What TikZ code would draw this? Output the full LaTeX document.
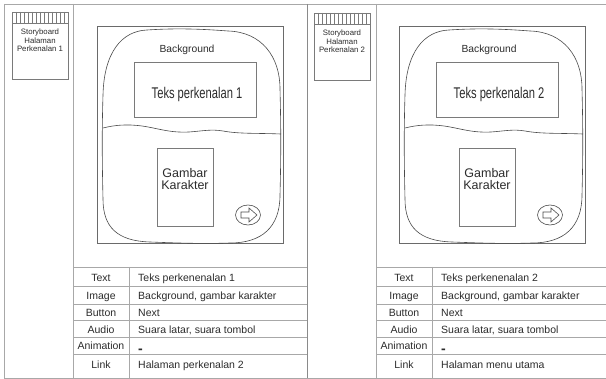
\documentclass[tikz,border=0pt]{standalone}
\usepackage{fontspec}
\setmainfont{Liberation Sans}

\definecolor{rulegrey}{HTML}{A8A8A8}
\definecolor{splitgrey}{HTML}{8A8A8A}
\definecolor{framegrey}{HTML}{6A6A6A}
\definecolor{sketchink}{HTML}{4A4A4A}
\definecolor{boxgrey}{HTML}{7A7A7A}
\definecolor{labelink}{HTML}{2C2C2C}

\tikzset{
  panelrule/.style={draw=rulegrey, line width=0.9pt},
  splitrule/.style={draw=splitgrey, line width=0.9pt},
  mockframe/.style={draw=framegrey, line width=1pt},
  sketchline/.style={draw=sketchink, line width=0.6pt},
  plainbox/.style={draw=boxgrey, line width=0.8pt, inner sep=0pt},
  cellfont/.style={font=\fontsize{10.5}{12}\selectfont, text=labelink, inner sep=0pt},
  rowhead/.style={cellfont, anchor=base},
  rowvalue/.style={cellfont, anchor=base west},
  % small storyboard tag with hatched header
  pics/storytag/.style={code={
    \draw[plainbox] (0,0) rectangle (56,67);
    \draw[plainbox] (0,11) -- (56,11);
    \foreach \hx in {4,8,...,52} \draw[draw=boxgrey, line width=0.6pt] (\hx,0) -- (\hx,11);
    \node[font=\fontsize{7.8}{8.3}\selectfont, text=labelink, align=center, inner sep=0pt]
      (-caption) at (28,28.5) {Storyboard\\Halaman\\Perkenalan #1};
  }},
  % screen sketch: frame, rounded background, text box, character, next button
  pics/screen/.style={code={
    \draw[mockframe] (0,0) rectangle (186,217);
    \draw[sketchline] (50,3) .. controls (80,1) and (105,2) .. (131,4)
      .. controls (165,5) and (183,30) .. (183,62)
      .. controls (184,100) and (184,130) .. (183,168)
      .. controls (183,200) and (165,216) .. (133,216)
      .. controls (105,217) and (80,216) .. (53,215)
      .. controls (20,214) and (6,200) .. (6,172)
      .. controls (5,130) and (5,100) .. (6,68)
      .. controls (7,25) and (25,4) .. (50,3);
    \draw[sketchline] (6,101) .. controls (18,98) and (30,97) .. (45,99)
      .. controls (60,101) and (72,106) .. (92,105)
      .. controls (106,104) and (114,102) .. (126,104)
      .. controls (142,107) and (160,106) .. (184,107);
    \node[font=\fontsize{10.3}{12}\selectfont, text=labelink, inner sep=0pt]
      (-bg) at (90,22.5) {Background};
    \node[plainbox, minimum width=122pt, minimum height=55pt] (-textbox) at (98,62.5) {};
    \node[font=\fontsize{15.5}{18}\selectfont, text=labelink, inner sep=0pt]
      (-textlabel) at (100,67.5) {\scalebox{0.72}[1]{Teks perkenalan #1}};
    \node[plainbox, minimum width=56pt, minimum height=78pt] (-charbox) at (88,160) {};
    \node[font=\fontsize{12.5}{12}\selectfont, text=labelink, align=center, inner sep=0pt]
      (-charlabel) at (88,152) {Gambar\\Karakter};
    \draw[sketchline] (151,188) ellipse [x radius=12.5, y radius=10];
    \draw[sketchline] (144,185) -- (152,185) -- (152,181) -- (160,188)
      -- (152,195) -- (152,191) -- (144,191) -- cycle;
  }},
  % property table under each screen
  pics/infotable/.style n args={3}{code={
    \draw[panelrule] (0,0) -- (#1,0) (0,19.4) -- (#1,19.4) (0,37.7) -- (#1,37.7)
      (0,53.7) -- (#1,53.7) (0,70) -- (#1,70) (0,87.7) -- (#1,87.7);
    \draw[panelrule] (56,0) -- (56,111);
    \node[rowhead] (-h1) at (28,14.5) {Text};
    \node[rowvalue] (-v1) at (65,14.5) {#2};
    \node[rowhead] (-h2) at (28,33) {Image};
    \node[rowvalue] (-v2) at (65,33) {Background, gambar karakter};
    \node[rowhead] (-h3) at (28,50) {Button};
    \node[rowvalue] (-v3) at (65,50) {Next};
    \node[rowhead] (-h4) at (28,67) {Audio};
    \node[rowvalue] (-v4) at (65,67) {Suara latar, suara tombol};
    \node[rowhead] (-h5) at (28,83) {Animation};
    \node[rowvalue] (-v5) at (65,83) {\raisebox{-3.8pt}{\fontsize{14}{14}\selectfont\bfseries -}};
    \node[rowhead] (-h6) at (28,102) {Link};
    \node[rowvalue] (-v6) at (65,102) {#3};
  }},
}

\begin{document}
\begin{tikzpicture}[x=1pt,y=-1pt]
  \useasboundingbox (0,0) rectangle (606,379);
  \fill[white] (0,0) rectangle (606,379);

  % outer grid of the two storyboard panels
  \draw[panelrule] (4,4) -- (606,4);
  \draw[panelrule] (4,378) -- (606,378);
  \draw[panelrule] (4,4) -- (4,378);
  \draw[panelrule] (73,4) -- (73,378);
  \draw[panelrule] (376,4) -- (376,378);
  \draw[splitrule] (307,4) -- (307,378);

  \pic (tagA) at (12,12) {storytag=1};
  \pic (tagB) at (314,13) {storytag=2};

  \pic (scrA) at (97,27) {screen=1};
  \pic (scrB) at (399,27) {screen=2};

  \pic (tabA) at (73,267) {infotable={234}{Teks perkenenalan 1}{Halaman perkenalan 2}};
  \pic (tabB) at (376,267) {infotable={230}{Teks perkenenalan 2}{Halaman menu utama}};
\end{tikzpicture}
\end{document}
